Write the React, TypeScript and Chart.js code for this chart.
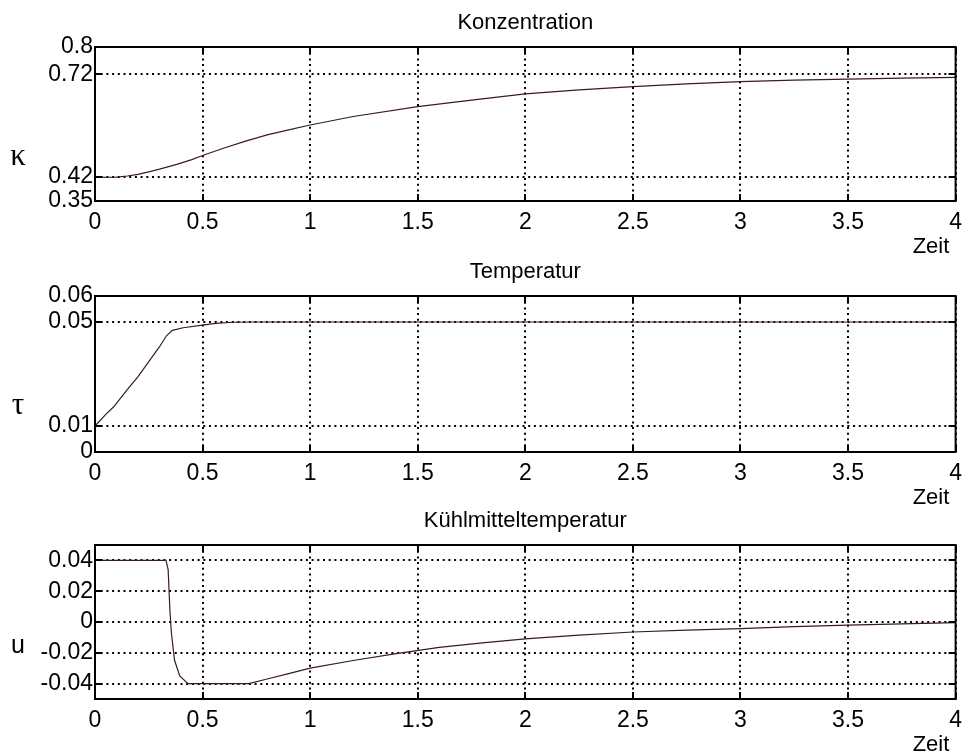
import React, { useEffect, useRef } from 'react';
import { Chart, registerables } from 'chart.js';

Chart.register(...registerables);

// ---- data ----
const timeK = [0, 0.1, 0.15, 0.2, 0.25, 0.3, 0.38, 0.45, 0.5, 0.6, 0.7, 0.8, 0.9, 1.0, 1.2, 1.5, 1.75, 2.0, 2.25, 2.5, 2.75, 3.0, 3.25, 3.5, 3.75, 4.0];
const kappaValues = [0.419, 0.42, 0.423, 0.428, 0.435, 0.443, 0.457, 0.471, 0.483, 0.505, 0.525, 0.543, 0.558, 0.572, 0.597, 0.626, 0.645, 0.663, 0.675, 0.684, 0.692, 0.699, 0.703, 0.706, 0.709, 0.711];

const timeT = [0, 0.05, 0.087, 0.15, 0.2, 0.24, 0.3, 0.333, 0.36, 0.41, 0.5, 0.56, 0.64, 0.75, 1, 2, 3, 4];
const tauValues = [0.01, 0.0145, 0.0174, 0.024, 0.029, 0.0336, 0.0405, 0.0448, 0.0468, 0.0478, 0.0488, 0.0495, 0.0499, 0.05, 0.05, 0.05, 0.05, 0.05];

const timeU = [0, 0.33, 0.34, 0.348, 0.355, 0.37, 0.394, 0.432, 0.715, 0.8, 0.9, 1.0, 1.2, 1.4, 1.6, 1.8, 2.0, 2.25, 2.5, 2.75, 3.0, 3.25, 3.5, 3.75, 4.0];
const uValues = [0.04, 0.04, 0.034, 0.008, -0.007, -0.025, -0.035, -0.04, -0.04, -0.037, -0.0335, -0.03, -0.025, -0.0205, -0.0165, -0.0135, -0.011, -0.0085, -0.0065, -0.0053, -0.0043, -0.003, -0.002, -0.0012, -0.0004];

const xTicks = [0, 0.5, 1, 1.5, 2, 2.5, 3, 3.5, 4];
const kappaTicks = [0.35, 0.42, 0.72, 0.8];
const tauTicks = [0, 0.01, 0.05, 0.06];
const uTicks = [-0.04, -0.02, 0, 0.02, 0.04];

const titles = ['Konzentration', 'Temperatur', 'Kühlmitteltemperatur'];
const yLabels = ['κ', 'τ', 'u'];
const xLabel = 'Zeit';

const W = 970;
const H = 754;
const SANS = '"Liberation Sans", Arial, Helvetica, sans-serif';
const SERIF = '"Liberation Serif", "Times New Roman", "DejaVu Serif", serif';

const panels = [
  { xs: timeK, ys: kappaValues, yTicks: kappaTicks, yMin: 0.35, yMax: 0.8, top: 47, bottom: 201, title: titles[0], yLabel: yLabels[0], yLabelFont: SERIF, yLabelSize: 31, yLabelY: 157 },
  { xs: timeT, ys: tauValues, yTicks: tauTicks, yMin: 0, yMax: 0.06, top: 296, bottom: 452, title: titles[1], yLabel: yLabels[1], yLabelFont: SERIF, yLabelSize: 31, yLabelY: 406 },
  { xs: timeU, ys: uValues, yTicks: uTicks, yMin: -0.05, yMax: 0.05, top: 545, bottom: 699, title: titles[2], yLabel: yLabels[2], yLabelFont: SANS, yLabelSize: 25, yLabelY: 646 },
];

const framePlugin = {
  id: 'matlabFrame',
  afterDraw(chart: any, _args: any, opts: any) {
    const { ctx, chartArea: a, scales } = chart;
    ctx.save();
    ctx.setLineDash([]);
    ctx.strokeStyle = '#000';
    ctx.lineWidth = 2;
    const tl = 7;
    ctx.beginPath();
    for (const v of xTicks) {
      const px = Math.round(scales.x.getPixelForValue(v));
      ctx.moveTo(px, a.top); ctx.lineTo(px, a.top + tl);
      ctx.moveTo(px, a.bottom); ctx.lineTo(px, a.bottom - tl);
    }
    for (const v of opts.yTicks) {
      const py = Math.round(scales.y.getPixelForValue(v));
      ctx.moveTo(a.left, py); ctx.lineTo(a.left + tl, py);
      ctx.moveTo(a.right, py); ctx.lineTo(a.right - tl, py);
    }
    ctx.stroke();
    ctx.lineWidth = 2;
    ctx.strokeRect(a.left, a.top, a.right - a.left, a.bottom - a.top);

    ctx.fillStyle = '#000';
    ctx.textAlign = 'center';
    ctx.textBaseline = 'middle';
    ctx.font = `22px ${SANS}`;
    ctx.fillText(opts.title, (a.left + a.right) / 2, a.top - 24);
    ctx.fillText(xLabel, 931, a.bottom + 46);
    ctx.font = `${opts.yLabelSize}px ${opts.yLabelFont}`;
    ctx.fillText(opts.yLabel, 18, opts.yLabelY);
    ctx.restore();
  },
};

function makeChart(canvas: HTMLCanvasElement, p: any) {
  const data = p.xs.map((x: number, i: number) => ({ x, y: p.ys[i] }));
  return new Chart(canvas, {
    type: 'line',
    data: {
      datasets: [
        {
          data,
          borderColor: '#3a1c1c',
          borderWidth: 1.2,
          pointRadius: 0,
          tension: 0,
          fill: false,
        },
      ],
    },
    options: {
      animation: false,
      responsive: false,
      events: [],
      layout: { padding: { left: 0, right: 8, top: p.top, bottom: H - p.bottom - 40 } },
      plugins: {
        legend: { display: false },
        tooltip: { enabled: false },
        title: { display: false },
        matlabFrame: { title: p.title, yLabel: p.yLabel, yLabelFont: p.yLabelFont, yLabelSize: p.yLabelSize, yLabelY: p.yLabelY, yTicks: p.yTicks },
      } as any,
      scales: {
        x: {
          type: 'linear',
          min: 0,
          max: 4,
          afterBuildTicks: (s: any) => { s.ticks = xTicks.map((v) => ({ value: v })); },
          afterFit: (s: any) => { s.height = 40; },
          ticks: {
            autoSkip: false,
            maxRotation: 0,
            padding: 8,
            color: '#000',
            font: { family: SANS, size: 23 },
            callback: (v: any) => String(v),
          },
          grid: { color: '#000', lineWidth: 2, drawTicks: false },
          border: { display: false, dash: [2, 3.7] },
        },
        y: {
          type: 'linear',
          min: p.yMin,
          max: p.yMax,
          afterBuildTicks: (s: any) => { s.ticks = p.yTicks.map((v: number) => ({ value: v })); },
          afterFit: (s: any) => { s.width = 95; },
          ticks: {
            autoSkip: false,
            padding: 2,
            color: '#000',
            font: { family: SANS, size: 23 },
            callback: (v: any) => String(v),
          },
          grid: { color: '#000', lineWidth: 2, drawTicks: false },
          border: { display: false, dash: [2, 3.7] },
        },
      },
    },
    plugins: [framePlugin],
  } as any);
}

export default function App() {
  const refs = [useRef<HTMLCanvasElement>(null), useRef<HTMLCanvasElement>(null), useRef<HTMLCanvasElement>(null)];
  useEffect(() => {
    const charts = panels.map((p, i) => makeChart(refs[i].current as HTMLCanvasElement, p));
    return () => charts.forEach((c) => c.destroy());
  }, []);
  return (
    <div style={{ position: 'fixed', left: 0, top: 0, width: W, height: H, background: '#fff' }}>
      {refs.map((r, i) => (
        <canvas key={i} ref={r} width={W} height={H} style={{ position: 'absolute', left: 0, top: 0, width: W, height: H }} />
      ))}
    </div>
  );
}
